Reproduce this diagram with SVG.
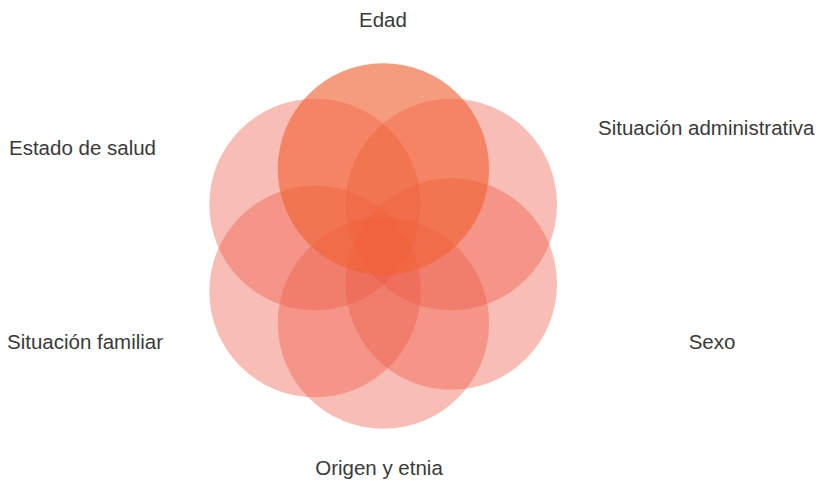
<svg xmlns="http://www.w3.org/2000/svg" width="822" height="481" viewBox="0 0 822 481">
  <style>
    .lbl { font-family: "Liberation Sans", Arial, sans-serif; font-size: 20.5px; fill: #3a3a3a; }
    .c { fill: #ED5A46; fill-opacity: 0.4; }
    .ctop { fill: #F06232; fill-opacity: 0.63; }
  </style>
  <rect width="822" height="481" fill="#ffffff"/>
  <g id="circles">
    <g id="node-estado-salud"><circle class="c" cx="315" cy="204.5" r="105.7"/></g>
    <g id="node-situacion-administrativa"><circle class="c" cx="451.3" cy="204.5" r="105.7"/></g>
    <g id="node-situacion-familiar"><circle class="c" cx="315" cy="291.5" r="105.7"/></g>
    <g id="node-sexo"><circle class="c" cx="451.3" cy="284" r="105.7"/></g>
    <g id="node-origen"><circle class="c" cx="383.4" cy="323" r="105.7"/></g>
    <g id="node-edad"><circle class="ctop" cx="383.4" cy="169" r="105.7"/></g>
  </g>
  <g id="connectors"/>
  <g id="labels">
    <text class="lbl" x="383" y="26.5" text-anchor="middle">Edad</text>
    <text class="lbl" x="598" y="134.5">Situación administrativa</text>
    <text class="lbl" x="9" y="155">Estado de salud</text>
    <text class="lbl" x="7" y="349">Situación familiar</text>
    <text class="lbl" x="712" y="348.5" text-anchor="middle">Sexo</text>
    <text class="lbl" x="379" y="475" text-anchor="middle">Origen y etnia</text>
  </g>
</svg>
